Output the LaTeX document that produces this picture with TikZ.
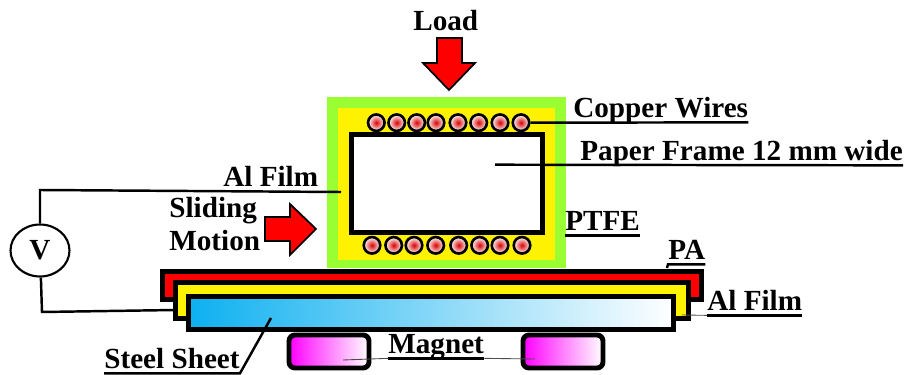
\documentclass[tikz,border=0pt]{standalone}
\usepackage{fontspec}
\setmainfont{Liberation Serif}
\usetikzlibrary{shapes.geometric}
\definecolor{framegreen}{HTML}{99FF33}
\definecolor{sheetblue}{HTML}{0DB0F0}
\tikzset{
    lbl/.style = {inner sep=0pt, anchor=base west, text depth=0.08cm, font=\bfseries\fontsize{16.6}{19}\selectfont},
    rule/.style = {line width=1.4pt},
    thin rule/.style = {line width=0.5pt, black!70},
    layer/.style = {draw, line width=2.8pt, rectangle, inner sep=0pt},
    wire/.style = {draw, circle, line width=1.5pt, minimum size=0.33cm, inner sep=0pt, inner color=red!85!black, outer color=white},
    magnet/.style = {layer, rounded corners=0.12cm, minimum width=1.6cm, minimum height=0.66cm, left color=magenta, right color=white},
    bigarrow/.style = {draw, line width=1pt, fill=red, line join=miter}
}
\begin{document}
\begin{tikzpicture}[x=0.02cm,y=-0.02cm]
        \useasboundingbox (0,0) rectangle (904,375);
        % sample block
        \node[rectangle, fill=framegreen, inner sep=0pt, minimum width=4.78cm, minimum height=3.42cm] (ptfeouter) at (446.5,182.5) {};
        \node[rectangle, fill=yellow, inner sep=0pt, minimum width=4.35cm, minimum height=3.04cm] (ptfeinner) at (446.5,184) {};
        \node[layer, fill=white, minimum width=3.82cm, minimum height=1.96cm] (frame) at (447,183.5) {};
        \foreach \i/\x in {1/376.3, 2/396.7, 3/416.7, 4/436, 5/458, 6/478.7, 7/500, 8/521}
            \node[wire] (top\i) at (\x,122.7) {};
        \foreach \i/\x in {1/372, 2/393.7, 3/414, 4/435.7, 5/458.7, 6/479.7, 7/500, 8/522}
            \node[wire] (bot\i) at (\x,245.3) {};
        % base layers
        \node[layer, fill=red, minimum width=10.78cm, minimum height=0.57cm] (pa) at (432,285.3) {};
        \node[layer, fill=yellow, minimum width=10.26cm, minimum height=0.73cm] (alfilm) at (432,300.3) {};
        \node[layer, left color=sheetblue, right color=white, minimum width=9.71cm, minimum height=0.67cm] (steel) at (431.2,313.2) {};
        \node[magnet] (mag1) at (329,351.5) {};
        \node[magnet] (mag2) at (563,351.5) {};
        % arrows
        \draw[bigarrow] (437,38) -- (462,38) -- (462,63) -- (475,63) -- (449,90) -- (423,63) -- (437,63) -- cycle;
        \draw[bigarrow] (265,217) -- (290,217) -- (290,204) -- (316,229) -- (290,255) -- (290,241) -- (265,241) -- cycle;
        % voltmeter
        \node[draw, ellipse, line width=1.2pt, inner sep=0pt, minimum width=1.18cm, minimum height=1.04cm, font=\bfseries\fontsize{16.6}{19}\selectfont] (volt) at (40,250.5) {V};
        \coordinate (topbend) at (40,190);
        \coordinate (botbend) at (42,312);
        \coordinate (alend) at (341,192);
        \coordinate (alfilmend) at (175,310);
        \draw[rule] (volt) -- (topbend) -- (alend);
        \draw[rule] (volt) -- (botbend) -- (alfilmend);
        % labels
        \node[lbl] (load) at (413,31) {Load};
        \node[lbl] (copper) at (573,118) {Copper Wires};
        \node[lbl] (paper) at (580,161) {Paper Frame 12 mm wide};
        \node[lbl] (ptfe) at (565,231) {PTFE};
        \node[lbl] (pa label) at (668,260) {PA};
        \node[lbl] (al right) at (707,311) {Al Film};
        \node[lbl] (magnet label) at (388,354) {Magnet};
        \node[lbl] (steel label) at (104,369) {Steel Sheet};
        \node[lbl, text depth=0pt] (al left) at (223,187) {Al Film};
        \node[lbl, text depth=0pt] (sliding) at (169,218) {Sliding};
        \node[lbl, text depth=0pt] (motion) at (169,251) {Motion};
        % underlines and leaders
        \coordinate (frameinside) at (495,164.7);
        \coordinate (alrightend) at (682,315);
        \coordinate (mag1inside) at (343,360);
        \coordinate (mag2inside) at (535,359);
        \coordinate (steelinside) at (271,318);
        \coordinate (patick) at (667,268);
        \draw[rule] (top8) -- (copper.south east);
        \draw[rule] (frameinside) -- (paper.south east);
        \draw[rule] (ptfe.south west) -- (ptfe.south east);
        \draw[rule] (patick) -- (pa label.south west) -- (pa label.south east);
        \draw[rule] (al right.south west) -- (al right.south east);
        \draw[rule] (magnet label.south west) -- (magnet label.south east);
        \draw[rule] (steel label.south west) -- (steel label.south east) -- (steelinside);
        \foreach \from/\to in {alrightend/al right.south west, mag1inside/magnet label.south west, mag2inside/magnet label.south east}
            \draw[thin rule] (\from) -- (\to);
\end{tikzpicture}
\end{document}
